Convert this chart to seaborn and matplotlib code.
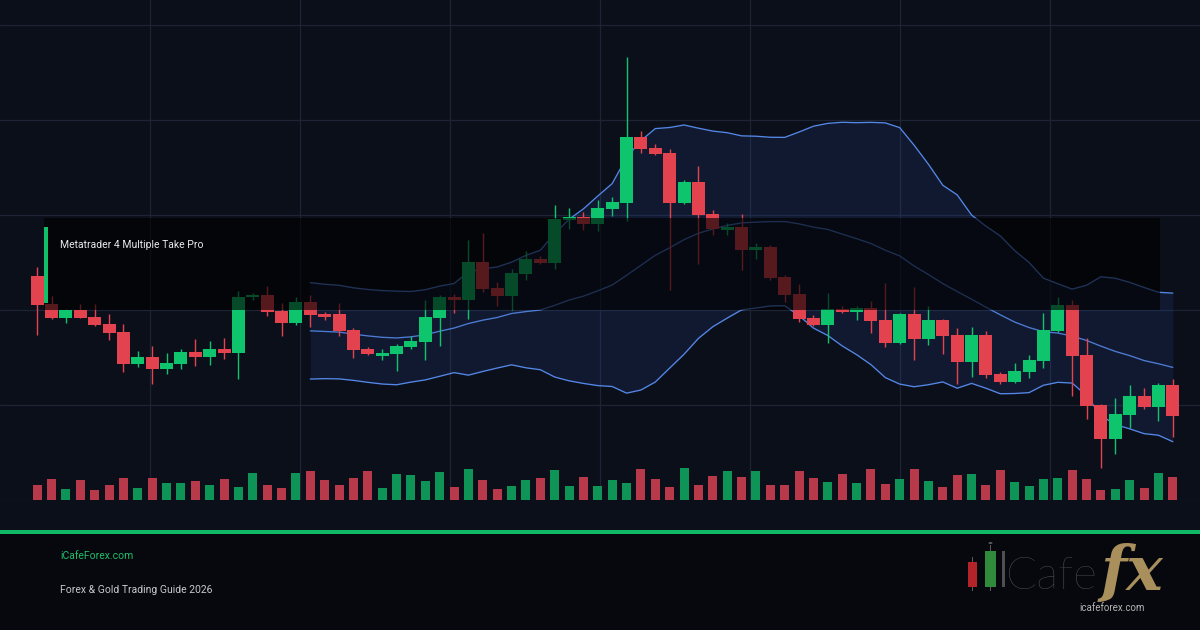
import numpy as np
import pandas as pd
import matplotlib
matplotlib.use("Agg")
import matplotlib.pyplot as plt
from matplotlib.patches import Rectangle, Circle
import seaborn as sns

# ---------------- data ----------------
opens = [224, 196, 182, 190, 183, 176, 168, 136, 143, 131,
         136, 148, 143, 151, 147, 203, 205, 189, 177, 198,
         186, 186, 170, 151, 144, 146, 153, 158, 182, 203,
         200, 238, 212, 204, 226, 241, 237, 280, 283, 276,
         291, 297, 363, 352, 347, 297, 318, 286, 270, 273,
         250, 253, 223, 206, 182, 175, 191, 188, 192, 180,
         157, 186, 161, 180, 165, 138, 165, 126, 118, 128,
         139, 169, 195, 145, 95, 61, 85, 104, 93, 115]
highs = [233, 204, 191, 196, 196, 186, 176, 149, 154, 147,
         151, 161, 159, 162, 209, 207, 214, 197, 203, 205,
         188, 197, 172, 153, 151, 156, 164, 200, 205, 206,
         260, 267, 218, 231, 249, 244, 295, 292, 288, 300,
         303, 443, 369, 356, 351, 320, 334, 290, 277, 286,
         257, 255, 225, 216, 185, 207, 194, 194, 199, 217,
         187, 213, 194, 181, 172, 173, 169, 128, 137, 145,
         187, 203, 200, 162, 96, 102, 115, 112, 117, 121]
lows = [165, 181, 177, 182, 174, 160, 128, 133, 116, 126,
        131, 134, 135, 141, 121, 200, 184, 164, 175, 173,
        180, 164, 142, 145, 140, 129, 151, 140, 154, 187,
        181, 208, 194, 190, 220, 236, 231, 271, 270, 269,
        284, 279, 347, 345, 210, 296, 236, 265, 265, 230,
        241, 220, 198, 178, 174, 157, 187, 180, 167, 153,
        156, 140, 155, 146, 116, 123, 122, 116, 117, 122,
        132, 168, 104, 81, 32, 46, 72, 91, 79, 63]
closes = [195, 182, 190, 182, 175, 167, 136, 143, 131, 137,
          148, 143, 151, 147, 203, 205, 188, 177, 198, 185,
          183, 169, 150, 146, 147, 154, 159, 183, 203, 200,
          238, 211, 204, 227, 241, 237, 281, 283, 276, 292,
          298, 363, 351, 346, 297, 318, 285, 271, 273, 250,
          253, 222, 205, 181, 175, 191, 188, 192, 179, 157,
          186, 161, 180, 164, 138, 165, 125, 118, 129, 140,
          170, 195, 144, 94, 61, 86, 104, 93, 115, 84]
volumes = [15, 21, 11, 20, 10, 15, 22, 12, 22, 17,
           17, 19, 15, 21, 13, 27, 15, 12, 27, 29,
           20, 15, 22, 29, 12, 26, 25, 19, 28, 13,
           31, 20, 11, 14, 20, 22, 30, 14, 23, 14,
           20, 17, 31, 21, 13, 32, 15, 24, 29, 23,
           29, 15, 15, 29, 22, 18, 26, 17, 31, 16,
           21, 31, 19, 13, 25, 26, 15, 30, 18, 14,
           21, 22, 30, 21, 10, 11, 20, 12, 27, 23]

chart_title = "Metatrader 4 Multiple Take Pro"
site_name = "iCafeForex.com"
subtitle = "Forex & Gold Trading Guide 2026"
logo_word = "Cafe"
logo_fx = "fx"
logo_url = "icafeforex.com"

BB_PERIOD = 20
BB_K = 2

# ---------------- style ----------------
W, H = 1200, 630
BG = "#0b0f1a"
FOOT_BG = "#06080d"
GRID = "#1d2433"
UP = "#0ec46c"
DOWN = "#e3434f"
VOL_UP = "#0f9458"
VOL_DOWN = "#b8394a"
BAND = "#5487e6"
BAND_FILL = "#3a5fd0"
ACCENT = "#12c06a"

sns.set_theme(style="dark", rc={"axes.facecolor": BG, "figure.facecolor": BG,
                                "grid.color": GRID})
plt.rcParams["font.family"] = ["Roboto", "DejaVu Sans"]

df = pd.DataFrame({"idx": np.arange(len(opens)), "open": opens, "high": highs,
                   "low": lows, "close": closes, "volume": volumes})
df["dir"] = np.where(df["close"] >= df["open"], "up", "down")
mid = df["close"].rolling(BB_PERIOD).mean()
sd = df["close"].rolling(BB_PERIOD).std(ddof=0)
df["mid"] = mid
df["upper"] = mid + BB_K * sd
df["lower"] = mid - BB_K * sd

n = len(df)
chart_left = 30
slot = 1150 / n
plot_bottom = 500  # px from top
xlim = (-chart_left / slot - 0.5, (W - chart_left) / slot - 0.5)
ylim = (0, plot_bottom)

fig = plt.figure(figsize=(W / 100, H / 100), dpi=100, facecolor=BG)
rect = [0, 1 - plot_bottom / H, 1, plot_bottom / H]
axv = fig.add_axes(rect)
ax = fig.add_axes(rect)

# volume
sns.barplot(data=df, x="idx", y="volume", hue="dir",
            palette={"up": VOL_UP, "down": VOL_DOWN}, width=0.63, dodge=False,
            saturation=1, legend=False, errorbar=None, edgecolor="none",
            linewidth=0, ax=axv)
axv.set_facecolor(BG)
axv.set_xlim(*xlim)
axv.set_ylim(*ylim)
axv.set_yticks(np.arange(0, 480, 95))
axv.set_xticks((np.arange(150, W, 150) - chart_left) / slot - 0.5)
axv.grid(True, color=GRID, linewidth=0.9)
axv.set_axisbelow(True)

# price
ax.patch.set_visible(False)
ax.fill_between(df["idx"], df["lower"], df["upper"], color=BAND_FILL, alpha=0.13,
                linewidth=0)
for col, a in (("upper", 1.0), ("mid", 0.9), ("lower", 1.0)):
    sns.lineplot(x=df["idx"], y=df[col], ax=ax, color=BAND, linewidth=0.95, alpha=a)
colors = np.where(df["dir"] == "up", UP, DOWN)
ax.vlines(df["idx"], df["low"], df["high"], colors=colors, linewidth=1.0, zorder=3)
body_lo = np.minimum(df["open"], df["close"])
body_h = np.maximum(np.abs(df["close"] - df["open"]), 1)
ax.bar(df["idx"], body_h, bottom=body_lo, width=0.9, color=colors, linewidth=0, zorder=4)
ax.set_xlim(*xlim)
ax.set_ylim(*ylim)
ax.grid(False)

for a in (ax, axv):
    a.set_xlabel("")
    a.set_ylabel("")
    a.tick_params(length=0, labelbottom=False, labelleft=False)
    for s in a.spines.values():
        s.set_visible(False)


def fx(x):
    return x / W


def fy(y):
    return 1 - y / H


# title overlay box
fig.add_artist(Rectangle((fx(44), fy(310)), fx(1160) - fx(44), (310 - 218) / H,
                         transform=fig.transFigure, facecolor="black", alpha=0.62,
                         linewidth=0, zorder=2))
fig.add_artist(Rectangle((fx(43.5), fy(303)), 4 / W, (303 - 227) / H,
                         transform=fig.transFigure, facecolor=ACCENT, linewidth=0,
                         zorder=3))
fig.text(fx(60), fy(245), chart_title, color="#e6e8ec", fontsize=7.5,
         va="center", ha="left", zorder=4)

# footer
fig.add_artist(Rectangle((0, 0), 1, (H - 534) / H, transform=fig.transFigure,
                         facecolor=FOOT_BG, linewidth=0, zorder=1))
fig.add_artist(Rectangle((0, fy(534)), 1, 4 / H, transform=fig.transFigure,
                         facecolor="#10b866", linewidth=0, zorder=2))
fig.text(fx(60), fy(556), site_name, color="#1fbf6b", fontsize=7.5,
         va="center", ha="left", zorder=4)
fig.text(fx(60), fy(590), subtitle, color="#c5c9cf", fontsize=7.5,
         va="center", ha="left", zorder=4)

# logo
for (x0, x1, y0, y1, wy0, wy1, c) in ((968, 977, 562, 587, 557, 591, "#b3232a"),
                                      (985, 996, 551, 587, 545, 591, "#2f8a3c")):
    fig.add_artist(Rectangle((fx((x0 + x1) / 2 - 0.6), fy(wy1)), 1.2 / W, (wy1 - wy0) / H,
                             transform=fig.transFigure, facecolor="#5a5a5a",
                             linewidth=0, zorder=3))
    fig.add_artist(Rectangle((fx(x0), fy(y1)), (x1 - x0) / W, (y1 - y0) / H,
                             transform=fig.transFigure, facecolor=c, linewidth=0,
                             zorder=4))
fig.add_artist(Circle((fx(990.5), fy(543)), 2 / W, transform=fig.transFigure,
                      facecolor="#5a5a5a", linewidth=0, zorder=4))
fig.add_artist(Rectangle((fx(1002), fy(587)), 2.5 / W, 36 / H,
                         transform=fig.transFigure, facecolor="#4d4f52",
                         linewidth=0, zorder=4))
fig.text(fx(1006), fy(589), logo_word, color="#55575b", fontsize=33,
         family=["Lato", "DejaVu Sans"], fontweight="light", va="baseline",
         ha="left", zorder=4)
fig.text(fx(1101), fy(590), logo_fx, color="#a88f5c", fontsize=44,
         family=["DejaVu Serif"], fontweight="bold", fontstyle="italic",
         va="baseline", ha="left", zorder=5)
fig.text(fx(1112), fy(608), logo_url, color="#b5b5b5", fontsize=7,
         va="center", ha="center", zorder=6)

fig.savefig("out.png", dpi=100, facecolor=BG)
